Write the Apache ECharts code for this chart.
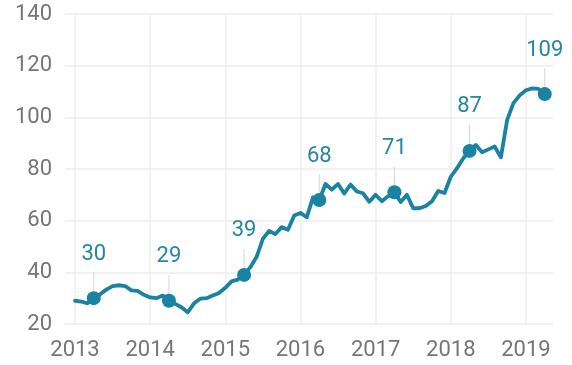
<!DOCTYPE html>
<html>
<head>
<meta charset="utf-8">
<script src="https://cdn.jsdelivr.net/npm/echarts@6/dist/echarts.min.js"></script>
<style>
  html, body { margin: 0; padding: 0; background: #ffffff; }
  #chart { width: 572px; height: 365px; }
</style>
</head>
<body>
<div id="chart"></div>
<script>
// Monthly index values, January 2013 to April 2019
const firstYear = 2013;
const values2013 = [29, 28.7, 28, 30, 31.5, 33.3, 34.7, 35, 34.7, 33, 32.8, 31.3];
const values2014 = [30.3, 30, 31, 29, 27.8, 26.5, 24.5, 28, 29.8, 30, 31, 32];
const values2015 = [34, 36.5, 37.2, 39, 42, 46, 53, 56, 54.8, 57.5, 56.5, 62];
const values2016 = [63, 61.3, 69, 68, 74.2, 72, 74.2, 70.5, 74, 71.3, 70.6, 67.3];
const values2017 = [70, 67.5, 69.5, 71, 67.2, 70, 64.8, 64.8, 65.7, 67.5, 71.5, 70.7];
const values2018 = [77, 80.3, 84.2, 87, 89.3, 86.5, 87.6, 88.7, 84.5, 99, 105.5, 108.5];
const values2019 = [110.5, 111.2, 111, 109];

// Year tick labels on the time axis, and the month highlighted each year (April)
const yearTicks = [2013, 2014, 2015, 2016, 2017, 2018, 2019];
const highlightMonth = 3;

// Value axis range
const yMin = 20, yMax = 140, yStep = 20;

const allValues = [].concat(values2013, values2014, values2015, values2016,
                            values2017, values2018, values2019);
const lineData = allValues.map((v, i) => [firstYear + i / 12, v]);
const highlightData = yearTicks
  .map(y => (y - firstYear) * 12 + highlightMonth)
  .filter(i => i < lineData.length)
  .map(i => lineData[i]);

const teal = '#1a82a3';
const labelTeal = '#2586a5';
const axisGray = '#767676';
const gridGray = '#eeeeee';

const chart = echarts.init(document.getElementById('chart'), null, { renderer: 'canvas' });
chart.setOption({
  animation: false,
  backgroundColor: '#ffffff',
  grid: { left: 65, right: 19, top: 14, bottom: 41, containLabel: false, outerBoundsMode: 'none' },
  xAxis: {
    type: 'value',
    min: 2012.867,
    max: 2019.36,
    axisLine: { show: false },
    axisTick: { show: false, customValues: yearTicks },
    axisLabel: {
      customValues: yearTicks,
      formatter: v => String(Math.round(v)),
      color: axisGray,
      fontFamily: 'Roboto',
      fontSize: 22,
      margin: 15
    },
    splitLine: { show: true, lineStyle: { color: gridGray, width: 1.5 } }
  },
  yAxis: {
    type: 'value',
    min: yMin,
    max: yMax,
    interval: yStep,
    axisLine: { show: false },
    axisTick: { show: false },
    axisLabel: {
      color: axisGray,
      fontFamily: 'Roboto',
      fontSize: 22,
      margin: 13
    },
    splitLine: { show: true, lineStyle: { color: gridGray, width: 1.5 } }
  },
  series: [
    {
      type: 'line',
      data: lineData,
      symbol: 'none',
      smooth: false,
      lineStyle: { color: teal, width: 3.8, join: 'round', cap: 'round' },
      z: 2
    },
    {
      // leader lines and value labels above each highlighted point
      type: 'custom',
      data: highlightData,
      z: 1,
      renderItem: (params, api) => {
        const p = api.coord([api.value(0), api.value(1)]);
        return {
          type: 'group',
          children: [
            {
              type: 'line',
              shape: { x1: p[0], y1: p[1], x2: p[0], y2: p[1] - 26 },
              style: { stroke: '#d6d6d6', lineWidth: 1 }
            },
            {
              type: 'text',
              x: p[0],
              y: p[1] - 44,
              style: {
                text: String(Math.round(api.value(1))),
                fill: labelTeal,
                font: '22px Roboto',
                align: 'center',
                verticalAlign: 'middle'
              }
            }
          ]
        };
      }
    },
    {
      type: 'scatter',
      data: highlightData,
      symbol: 'circle',
      symbolSize: 14,
      itemStyle: { color: teal, opacity: 1 },
      z: 3
    }
  ]
});
</script>
</body>
</html>
